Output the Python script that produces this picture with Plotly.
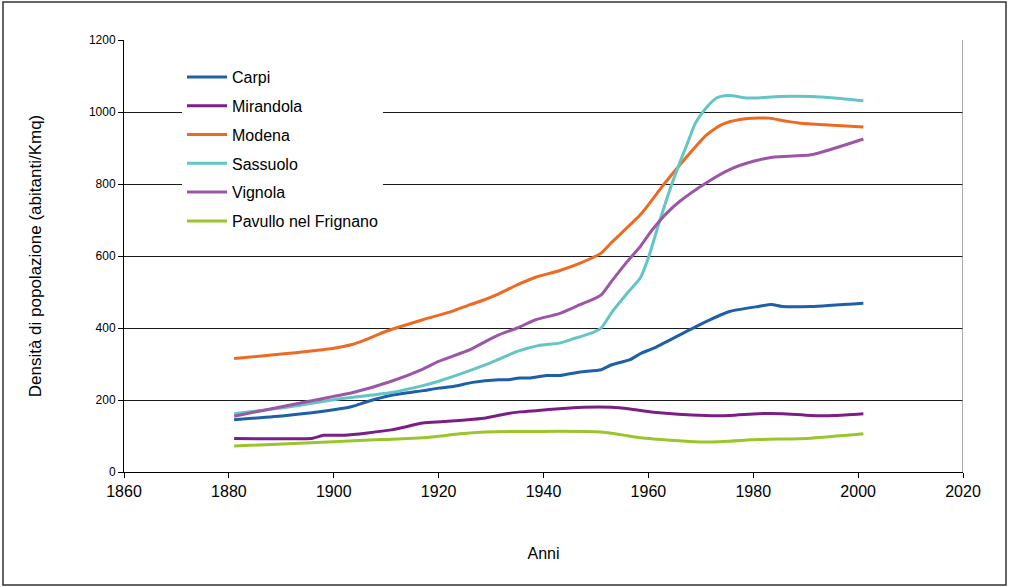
import plotly.graph_objects as go

# ---- data ----
carpi_years = [1881, 1891, 1900, 1903.5, 1906.5, 1911, 1917, 1920, 1923, 1926.5, 1931.5, 1933,
               1935.5, 1937.5, 1940.5, 1943, 1947, 1951, 1953, 1956.5, 1958.5, 1961, 1966, 1971,
               1975.5, 1981, 1983.5, 1985.5, 1991, 2001]
carpi_vals = [145, 157, 173, 182, 196, 213, 226, 233, 238, 249, 256, 256,
              261, 261, 268, 268, 278, 284, 298, 312, 329, 344, 381, 418,
              446, 460, 465, 460, 460, 469]

mirandola_years = [1881, 1896, 1898, 1902, 1911, 1917, 1921, 1929, 1933, 1935.5, 1939, 1943,
                   1947.5, 1953, 1956.5, 1961, 1971, 1975.5, 1981, 1985.5, 1991, 1995.5, 2001]
mirandola_vals = [93, 94, 102, 102, 117, 136, 140, 150, 162, 167, 171, 176,
                  180, 180, 175, 166, 157, 157, 162, 162, 157, 157, 162]

modena_years = [1881, 1891, 1900, 1903.5, 1906, 1910, 1917, 1922.5, 1926, 1928.5, 1931, 1935,
                1938.5, 1943, 1947, 1951, 1953, 1958.5, 1963, 1967, 1971, 1974, 1977.5, 1981,
                1983, 1986.5, 1989, 1991, 2001]
modena_vals = [315, 329, 344, 354, 367, 391, 423, 446, 465, 477, 492, 520,
               541, 559, 580, 608, 638, 715, 800, 870, 935, 965, 979, 983,
               983, 974, 969, 967, 958]

sassuolo_years = [1881, 1891, 1900, 1911, 1917, 1920, 1929, 1931, 1935, 1939, 1943, 1945.5,
                  1949.5, 1951, 1953, 1956, 1958.5, 1960, 1962, 1964, 1966, 1967.5, 1969, 1971,
                  1973, 1974.5, 1976, 1978.5, 1981, 1985, 1991, 1995.5, 2001]
sassuolo_vals = [162, 180, 201, 221, 240, 252, 298, 310, 335, 351, 358, 369,
                 388, 400, 443, 497, 540, 595, 690, 780, 860, 915, 970, 1011,
                 1039, 1045, 1045, 1039, 1039, 1043, 1043, 1039, 1031]

vignola_years = [1881, 1891, 1898, 1900, 1903.5, 1911, 1917, 1920, 1926, 1929, 1931.5, 1935,
                 1938.5, 1943, 1947, 1949.5, 1951, 1953, 1956, 1958.5, 1960.5, 1963.5, 1966,
                 1971, 1975.5, 1980, 1984, 1991, 2001]
vignola_vals = [155, 184, 204, 210, 220, 252, 286, 307, 340, 363, 381, 400,
                423, 440, 465, 480, 492, 530, 585, 627, 668, 719, 752,
                803, 840, 863, 875, 881, 925]

pavullo_years = [1881, 1901, 1909, 1917, 1921, 1924, 1929, 1951, 1958.5, 1961, 1971, 1981, 1991, 2001]
pavullo_vals = [72, 85, 90, 95, 101, 106, 111, 111, 95, 92, 83, 90, 94, 106]

series_names = ["Carpi", "Mirandola", "Modena", "Sassuolo", "Vignola", "Pavullo nel Frignano"]
series_years = [carpi_years, mirandola_years, modena_years, sassuolo_years, vignola_years, pavullo_years]
series_vals = [carpi_vals, mirandola_vals, modena_vals, sassuolo_vals, vignola_vals, pavullo_vals]
series_colors = ["#1f5ea8", "#7b1f86", "#ee6a22", "#63c5c6", "#9b57a6", "#9bc52c"]

x_ticks = [1860, 1880, 1900, 1920, 1940, 1960, 1980, 2000, 2020]
y_ticks = [0, 200, 400, 600, 800, 1000, 1200]

FONT = "Liberation Sans, Arial, sans-serif"

fig = go.Figure()
for name, xs, ys, col in zip(series_names, series_years, series_vals, series_colors):
    fig.add_trace(go.Scatter(
        x=xs, y=ys, name=name, mode="lines", legendgroup=name,
        line=dict(color=col, width=3, shape="spline", smoothing=0.6),
    ))

W, H = 1009, 587
L, R, T, B = 124, 46, 40, 115
PW, PH = W - L - R, H - T - B

fig.update_layout(
    width=W, height=H,
    margin=dict(l=L, r=R, t=T, b=B),
    paper_bgcolor="white", plot_bgcolor="white",
    font=dict(family=FONT, color="#000"),
    showlegend=True,
    legend=dict(
        x=(182 - L) / PW, y=(472 - 60) / PH,
        xanchor="left", yanchor="top",
        bgcolor="white", borderwidth=0,
        font=dict(family=FONT, size=16, color="#000"),
        itemwidth=40, tracegroupgap=5,
        entrywidth=190, entrywidthmode="pixels",
    ),
    xaxis=dict(
        range=[1860, 2020], tickmode="array", tickvals=x_ticks,
        ticktext=[str(v) for v in x_ticks],
        showgrid=False, zeroline=False,
        showline=True, linecolor="#000", linewidth=1,
        ticks="outside", ticklen=5, tickcolor="#000",
        tickfont=dict(family=FONT, size=16, color="#000"),
        title=dict(text="Anni", font=dict(family=FONT, size=16, color="#000"), standoff=48),
    ),
    yaxis=dict(
        range=[0, 1200], tickmode="array", tickvals=y_ticks,
        ticktext=[str(v) for v in y_ticks],
        showgrid=True, gridcolor="#1a1a1a", gridwidth=1.2, zeroline=False,
        showline=True, linecolor="#000", linewidth=1,
        ticks="outside", ticklen=5, tickcolor="#000",
        tickfont=dict(family=FONT, size=12, color="#000"),
        title=dict(text="Densità di popolazione (abitanti/Kmq)",
                   font=dict(family=FONT, size=17, color="#000"), standoff=42),
    ),
    shapes=[
        # right edge of plot area
        dict(type="line", xref="x", yref="y", x0=2020, x1=2020, y0=0, y1=1200,
             line=dict(color="#888", width=1.5)),
        # outer frame of the chart
        dict(type="rect", xref="paper", yref="paper",
             x0=(3 - L) / PW, x1=(1006 - L) / PW,
             y0=(472 - 585) / PH, y1=(472 - 2) / PH,
             line=dict(color="#333", width=1.5)),
    ],
)

fig.write_html("out.html",
               config={"displayModeBar": False},
               post_script="document.body.style.margin='0';document.body.style.overflow='hidden';")
